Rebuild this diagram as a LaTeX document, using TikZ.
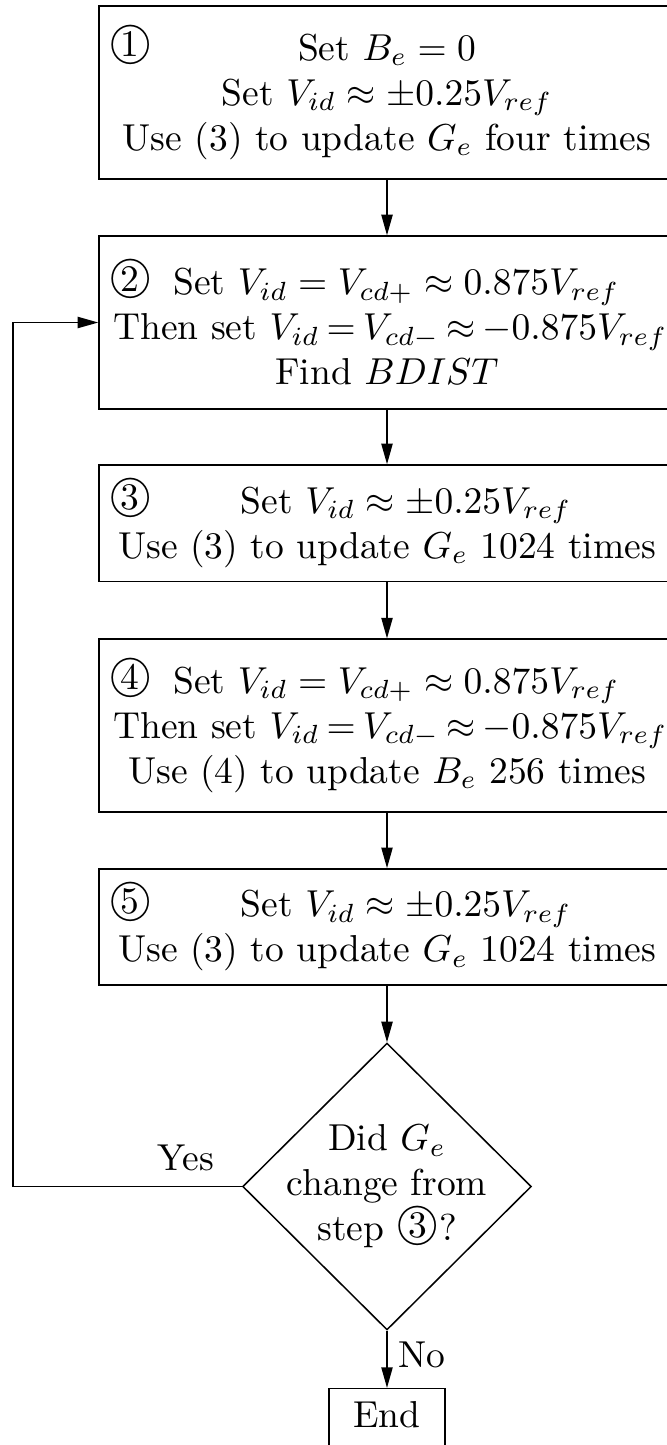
\documentclass[tikz,border=0pt]{standalone}
\usepackage{graphicx}
\usetikzlibrary{shapes.geometric,arrows.meta}
\newcommand{\cnum}[1]{\raisebox{1.3pt}{\ooalign{\scalebox{1.13}{$\bigcirc$}\cr\hfil\raisebox{-0.39pt}{#1}\hfil\cr}}}
\newcommand{\thenline}{\mbox{Then set $\thickmuskip=3.4mu V_{id}=V_{cd-}\approx-0.875V_{ref}$}}
\begin{document}
\begin{tikzpicture}[x=1pt,y=1pt,
  boxbase/.style={draw, rectangle, text width=146pt, inner xsep=3.8pt, inner ysep=3pt, align=flush center},
  tallbox/.style={boxbase, minimum height=46.1pt},
  shortbox/.style={boxbase, minimum height=31pt},
  decision/.style={draw, diamond, inner sep=0pt, minimum width=77pt, minimum height=76.5pt},
  endbox/.style={draw, rectangle, text depth=12pt, inner sep=3.33pt, minimum width=30.9pt},
  arr/.style={-{Triangle[length=5.5pt,width=3pt]}},
  lbl/.style={inner sep=0pt}
]
\useasboundingbox (0,0) rectangle (177.6,-385.33);

\node[tallbox] (b1) at (103.2,-24.7) {\rlap{\kern-1.1pt\cnum{1}}\hfill Set $B_e=0$\hfill\null\\
  \mbox{Set $V_{id}\approx\pm0.25V_{ref}$}\\
  \mbox{Use (3) to update $G_e$ four times}};

\node[tallbox] (b2) at (103.2,-86) {\kern-1.1pt\cnum{2}\hspace{5.8pt}Set $V_{id}=V_{cd+}\approx0.875V_{ref}$\hfill\null\\
  \thenline\\
  Find $BDIST$};

\node[shortbox] (b3) at (103.2,-139.5) {\kern-1.1pt\cnum{3}\hfill Set $V_{id}\approx\pm0.25V_{ref}$\hfill\null\\
  \mbox{Use (3) to update $G_e$ 1024 times}};

\node[tallbox] (b4) at (103.2,-193.5) {\kern-1.1pt\cnum{4}\hspace{5.8pt}Set $V_{id}=V_{cd+}\approx0.875V_{ref}$\hfill\null\\
  \thenline\\
  \mbox{Use (4) to update $B_e$ 256 times}};

\node[shortbox] (b5) at (103.2,-247.2) {\kern-1.1pt\cnum{5}\hfill Set $V_{id}\approx\pm0.25V_{ref}$\hfill\null\\
  \mbox{Use (3) to update $G_e$ 1024 times}};

\node[decision] (d) at (103.2,-316.4) {};
\node[align=center, inner sep=0pt] (dt) at (d.center) {Did $G_e$\\change from\\step \cnum{3}?};

\node[endbox, anchor=north] (e) at (103.2,-370.1) {End};

\coordinate (lp) at (3.47,0);

\draw[arr] (b1.south) -- (b2.north);
\draw[arr] (b2.south) -- (b3.north);
\draw[arr] (b3.south) -- (b4.north);
\draw[arr] (b4.south) -- (b5.north);
\draw[arr] (b5.south) -- (d.north);
\draw[arr] (d.south) -- (e.north);
\draw[arr] (d.west) -- (d.west -| lp) |- (b2.west);

\node[lbl] (yes) at (49.6,-308.8) {Yes};
\node[lbl] (no) at (112.5,-361.2) {No};
\end{tikzpicture}
\end{document}
